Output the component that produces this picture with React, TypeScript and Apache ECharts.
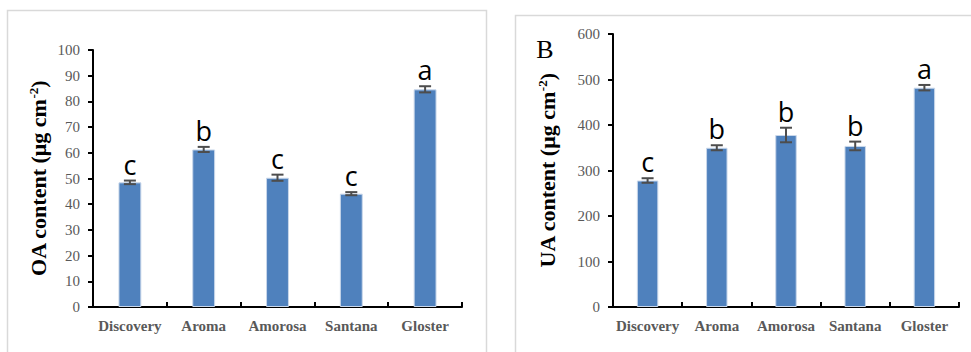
import React, { useEffect, useRef } from "react";
import * as echarts from "echarts";

const categories = ["Discovery", "Aroma", "Amorosa", "Santana", "Gloster"];
const oaMeans = [48.5, 61.3, 50.3, 44.1, 84.7];
const oaErrors = [0.7, 1.0, 1.2, 0.6, 1.2];
const oaLetters = ["c", "b", "c", "c", "a"];
const uaMeans = [278, 350, 378, 354, 482];
const uaErrors = [5, 5.5, 16, 9.5, 6];
const uaLetters = ["c", "b", "b", "b", "a"];

const serif = '"Liberation Serif", "Times New Roman", serif';
const barColor = "#4F81BD";
const errColor = "#4d4d4d";
const gray = "#595959";

function errorSeries(gridIdx: number, means: number[], errs: number[], letters: string[]) {
  return {
    type: "custom",
    xAxisIndex: gridIdx,
    yAxisIndex: gridIdx,
    z: 5,
    encode: { x: 0, y: 1 },
    data: means.map((m, i) => [i, m, errs[i], letters[i]]),
    renderItem: (params: any, api: any) => {
      const i = api.value(0);
      const m = api.value(1);
      const e = api.value(2);
      const letter = letters[params.dataIndex];
      const top = api.coord([i, m + e]);
      const bot = api.coord([i, m - e]);
      const cap = 6;
      const ls = { stroke: errColor, lineWidth: 2 };
      return {
        type: "group",
        children: [
          { type: "line", shape: { x1: top[0], y1: top[1], x2: bot[0], y2: bot[1] }, style: ls },
          { type: "line", shape: { x1: top[0] - cap, y1: top[1], x2: top[0] + cap, y2: top[1] }, style: ls },
          { type: "line", shape: { x1: bot[0] - cap, y1: bot[1], x2: bot[0] + cap, y2: bot[1] }, style: ls },
          {
            type: "text",
            x: top[0],
            y: top[1] - 3,
            style: {
              text: letter,
              fill: "#000",
              font: '27px "Open Sans", "Noto Sans", sans-serif',
              align: "center",
              verticalAlign: "bottom",
            },
          },
        ],
      };
    },
  };
}

function yAxisCfg(gridIdx: number, max: number, interval: number, name: string, gap: number) {
  return {
    type: "value",
    gridIndex: gridIdx,
    min: 0,
    max,
    interval,
    name,
    nameLocation: "middle",
    nameRotate: 90,
    nameGap: gap,
    nameTextStyle: {
      fontFamily: serif,
      fontWeight: "bold",
      fontSize: 22,
      color: "#000",
      rich: {
        s: {
          fontFamily: serif,
          fontWeight: "bold",
          fontSize: 13,
          color: "#000",
          verticalAlign: "top",
        },
      },
    },
    splitLine: { show: false },
    axisLine: { show: true, lineStyle: { color: "#000", width: 2 } },
    axisTick: { show: true, length: 5, lineStyle: { color: "#000", width: 2 } },
    axisLabel: { color: gray, fontFamily: serif, fontSize: 15, margin: 13 },
  };
}

function xAxisCfg(gridIdx: number) {
  return {
    type: "category",
    gridIndex: gridIdx,
    data: categories,
    axisLine: { show: true, lineStyle: { color: "#000", width: 2 } },
    axisTick: { show: true, inside: true, length: 5, lineStyle: { color: "#000", width: 2 } },
    axisLabel: { color: gray, fontFamily: serif, fontSize: 15, fontWeight: "bold", margin: 11, interval: 0 },
  };
}

export default function App() {
  const ref = useRef<HTMLDivElement>(null);
  useEffect(() => {
    if (!ref.current) return;
    const chart = echarts.init(ref.current, null, { renderer: "svg" });
    chart.setOption({
      animation: false,
      backgroundColor: "#fff",
      grid: [
        { left: 93, top: 50, right: 509, bottom: 45 },
        { left: 613, top: 34, right: 12, bottom: 45 },
      ],
      xAxis: [xAxisCfg(0), xAxisCfg(1)],
      yAxis: [
        yAxisCfg(0, 100, 10, "OA content (μg cm{s|-2})", 44),
        yAxisCfg(1, 600, 100, "UA content (μg cm{s|-2})", 55),
      ],
      graphic: [
        {
          type: "rect",
          shape: { x: 7.5, y: 10.5, width: 479, height: 360 },
          style: { fill: "none", stroke: "#d9d9d9", lineWidth: 1.5 },
          silent: true,
        },
        {
          type: "rect",
          shape: { x: 515.5, y: 15.5, width: 480, height: 360 },
          style: { fill: "none", stroke: "#d9d9d9", lineWidth: 1.5 },
          silent: true,
        },
        {
          type: "text",
          x: 545,
          y: 49,
          style: {
            text: "B",
            font: "26px " + serif,
            fill: "#000",
            align: "center",
            verticalAlign: "middle",
          },
        },
      ],
      series: [
        {
          type: "bar",
          xAxisIndex: 0,
          yAxisIndex: 0,
          data: oaMeans,
          barWidth: "31%",
          itemStyle: { color: barColor, borderColor: "#c9d7ea", borderWidth: 1 },
        },
        {
          type: "bar",
          xAxisIndex: 1,
          yAxisIndex: 1,
          data: uaMeans,
          barWidth: "31%",
          itemStyle: { color: barColor, borderColor: "#c9d7ea", borderWidth: 1 },
        },
        errorSeries(0, oaMeans, oaErrors, oaLetters),
        errorSeries(1, uaMeans, uaErrors, uaLetters),
      ],
    });
    return () => chart.dispose();
  }, []);
  return (
    <div
      ref={ref}
      style={{ position: "absolute", left: 0, top: 0, width: 971, height: 352 }}
    />
  );
}
